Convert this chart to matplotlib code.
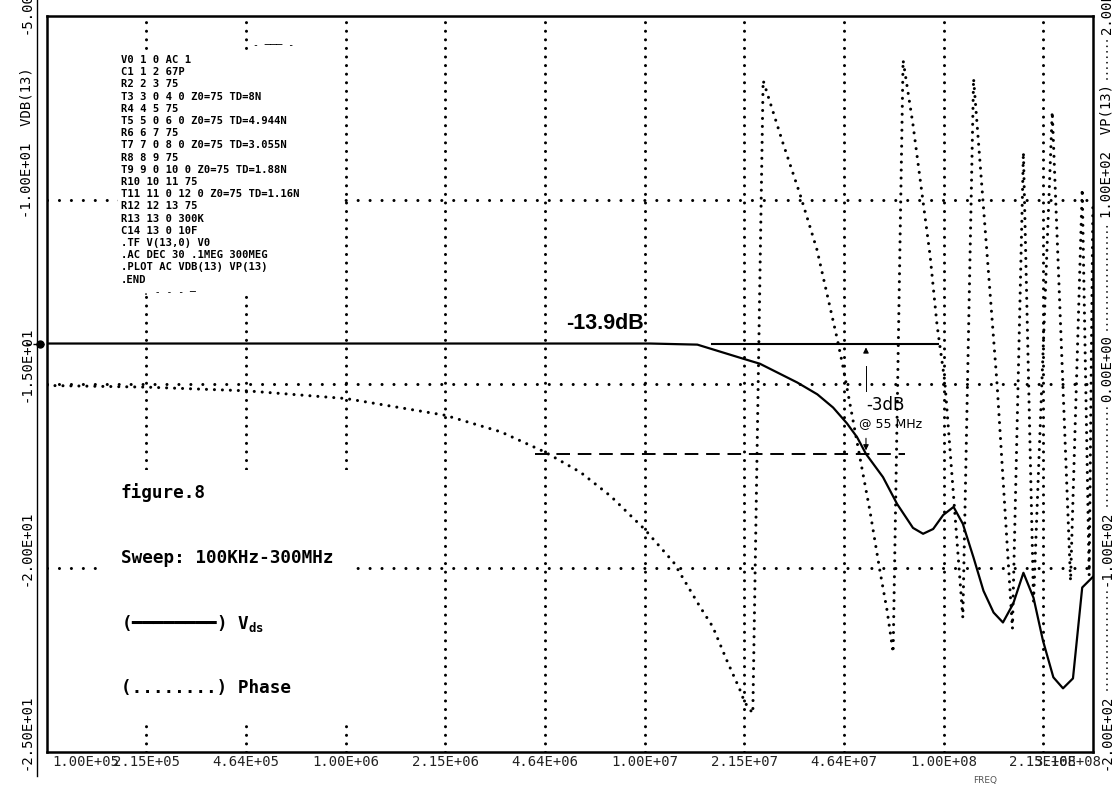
import matplotlib
matplotlib.use("Agg")
import matplotlib.pyplot as plt
from matplotlib.transforms import blended_transform_factory, offset_copy
from matplotlib.patches import Rectangle
from matplotlib.lines import Line2D

plt.rcParams['mathtext.fontset'] = 'custom'
plt.rcParams['mathtext.rm'] = 'DejaVu Sans Mono'
plt.rcParams['mathtext.bf'] = 'DejaVu Sans Mono:bold'

# ---- AC sweep results, node 13 ----
freq_mag = [1.0e5, 2.15e5, 4.64e5, 1.0e6, 2.15e6, 4.64e6, 7.08e6, 1.04e7, 1.50e7,
            2.13e7, 2.43e7, 3.24e7, 3.78e7, 4.27e7, 4.75e7, 5.14e7, 5.5e7, 6.27e7,
            6.99e7, 7.90e7, 8.54e7, 9.23e7, 9.97e7, 1.08e8, 1.16e8, 1.26e8, 1.36e8,
            1.47e8, 1.58e8, 1.71e8, 1.85e8, 2.00e8, 2.15e8, 2.33e8, 2.51e8, 2.71e8,
            2.91e8, 3.16e8]
vdb = [-13.9, -13.9, -13.9, -13.9, -13.9, -13.9, -13.9, -13.9, -13.93,
       -14.31, -14.45, -14.96, -15.28, -15.64, -16.07, -16.45, -16.9, -17.53,
       -18.26, -18.91, -19.07, -18.94, -18.56, -18.34, -18.80, -19.72, -20.62,
       -21.21, -21.48, -20.97, -20.13, -20.81, -21.97, -22.97, -23.27, -23.00,
       -20.53, -20.24]

freq_ph = [1e5, 2.15e5, 4.64e5, 1e6, 2.15e6, 3.3e6, 4.64e6, 6.1e6, 7.7e6, 1e7,
           1.25e7, 1.53e7, 1.69e7, 1.88e7, 2.08e7, 2.16e7, 2.30e7, 2.49e7, 2.90e7,
           3.31e7, 3.77e7, 4.40e7, 4.60e7, 4.75e7, 5.25e7, 5.67e7, 6.13e7, 6.47e7,
           6.78e7, 7.32e7, 7.90e7, 8.54e7, 9.01e7, 9.51e7, 1.01e8, 1.16e8, 1.26e8,
           1.51e8, 1.70e8, 1.85e8, 2.00e8, 2.31e8, 2.66e8, 2.91e8, 3.07e8, 3.16e8]
vp = [-0.8, -1.7, -3.7, -7.9, -17, -26, -37, -48, -61, -79,
      -97, -121, -132, -150, -166, -173, -179, 165, 131,
      103, 73, 25, 10, -2, -40, -69, -102, -123,
      -146, 176, 141, 99, 70, 32, 1, -127, 166,
      0, -133, 126, -118, 148, -107, 106, -104, 99]

xtick_vals = [1e5, 2.15e5, 4.64e5, 1e6, 2.15e6, 4.64e6, 1e7, 2.15e7, 4.64e7,
              1e8, 2.15e8, 3.16e8]
xtick_labels = ["1.00E+05", "2.15E+05", "4.64E+05", "1.00E+06", "2.15E+06",
                "4.64E+06", "1.00E+07", "2.15E+07", "4.64E+07", "1.00E+08",
                "2.15E+08", "3.16E+08"]
db_ticks = [-25, -20, -15, -10, -5]
db_labels = ["-2.50E+01", "-2.00E+01", "-1.50E+01", "-1.00E+01  VDB(13)", "-5.00E+00"]
ph_ticks = [-200, -100, 0, 100, 200]
ph_labels = ["-2.00E+02", "-1.00E+02", "0.00E+00", "1.00E+02  VP(13)", "2.00E+02"]

# hand annotations
ref_span = [1.68e7, 9.6e7]       # -13.9 dB reference line
half_span = [4.29e6, 7.43e7]     # -3 dB dashed line
f_3db = 5.5e7

netlist = ["V0 1 0 AC 1", "C1 1 2 67P", "R2 2 3 75", "T3 3 0 4 0 Z0=75 TD=8N",
           "R4 4 5 75", "T5 5 0 6 0 Z0=75 TD=4.944N", "R6 6 7 75",
           "T7 7 0 8 0 Z0=75 TD=3.055N", "R8 8 9 75", "T9 9 0 10 0 Z0=75 TD=1.88N",
           "R10 10 11 75", "T11 11 0 12 0 Z0=75 TD=1.16N", "R12 12 13 75",
           "R13 13 0 300K", "C14 13 0 10F", ".TF V(13,0) V0",
           ".AC DEC 30 .1MEG 300MEG", ".PLOT AC VDB(13) VP(13)", ".END"]

W, H = 1118, 786
def fx(x): return x / W
def fy(y): return 1 - y / H

fig = plt.figure(figsize=(W / 100, H / 100), dpi=100)
fig.patch.set_facecolor('white')
ax = fig.add_axes([fx(47), fy(752), (1093 - 47) / W, (752 - 16) / H])
ax2 = ax.twinx()

ax.set_xscale('log')
ax.set_xlim(1e5, 10 ** 8.5)
ax.set_ylim(-25, -5)
ax2.set_ylim(-200, 200)
for a in (ax, ax2):
    a.set_xticks([]); a.set_yticks([])
    a.minorticks_off()
    a.tick_params(which='both', length=0, labelleft=False, labelright=False, labelbottom=False)
for s in ax.spines.values():
    s.set_linewidth(1.8)
for s in ax2.spines.values():
    s.set_visible(False)

# dotted plotter grid
for f in xtick_vals[1:-1]:
    ax.axvline(f, color='k', lw=2.2, ls=(0, (0.01, 2.8)), dash_capstyle='round', zorder=1)
for v in db_ticks[1:-1]:
    ax.axhline(v, color='k', lw=2.2, ls=(0, (0.01, 3.9)), dash_capstyle='round', zorder=1)

# blank areas behind the text blocks
for x0, y0, x1, y1 in [(118, 50, 338, 295), (105, 470, 352, 724)]:
    ax.add_patch(Rectangle((fx(x0), fy(y1)), (x1 - x0) / W, (y1 - y0) / H,
                           transform=fig.transFigure, facecolor='white',
                           edgecolor='none', zorder=2, clip_on=False))

# curves
ax.plot(freq_mag, vdb, color='k', lw=1.6, zorder=3)
ax2.plot(freq_ph, vp, color='k', lw=2.2, ls=(0, (0.01, 2.6)), dash_capstyle='round')

# pen start mark on the left edge
lt = blended_transform_factory(fig.transFigure, ax.transData)
ax.plot([fx(26), fx(47)], [vdb[0], vdb[0]], color='k', lw=1.0, ls=(0, (3, 2)),
        transform=lt, clip_on=False)
ax.plot([fx(40)], [vdb[0]], 'ko', ms=5, transform=lt, clip_on=False)

# annotations
ax.plot(ref_span, [vdb[0]] * 2, color='k', lw=1.5, zorder=3)
ax.plot(half_span, [vdb[0] - 3] * 2, color='k', lw=1.4, ls=(0, (7, 4)), zorder=3)
ax.annotate('', xy=(f_3db, vdb[0] - 0.03), xytext=(f_3db, vdb[0] - 0.25),
            arrowprops=dict(arrowstyle='-|>', lw=0.8, color='k', mutation_scale=8))
ax.plot([f_3db, f_3db], [vdb[0] - 0.6, vdb[0] - 1.3], color='k', lw=0.7)
ax.annotate('', xy=(f_3db, vdb[0] - 2.98), xytext=(f_3db, vdb[0] - 2.5),
            arrowprops=dict(arrowstyle='-|>', lw=0.8, color='k', mutation_scale=8))
fig.text(fx(566), fy(329), "-13.9dB", fontsize=15.5, fontweight='bold',
         family='Liberation Sans', va='baseline', ha='left')
fig.text(fx(866), fy(405), "-3dB", fontsize=12, va='center', ha='left')
fig.text(fx(859), fy(424), "@ 55 MHz", fontsize=9, va='center', ha='left')

# x tick labels
bt = blended_transform_factory(ax.transData, fig.transFigure)
for i, (v, lab) in enumerate(zip(xtick_vals, xtick_labels)):
    if i == 0:
        fig.text(fx(52), fy(762), lab, ha='left', va='center',
                 family='DejaVu Sans Mono', fontsize=10, color='#222')
    elif i == len(xtick_vals) - 1:
        fig.text(fx(1101), fy(762), lab, ha='right', va='center',
                 family='DejaVu Sans Mono', fontsize=10, color='#222')
    else:
        ax.text(v, fy(762), lab, transform=bt, ha='center', va='center',
                family='DejaVu Sans Mono', fontsize=10, color='#222')
fig.text(fx(985), fy(781), "FREQ", fontsize=6.5, color='#555', ha='center', va='center')

# rotated y labels, each starting a little below its grid level
char_px = 0.602 * 10 * 100 / 72
def ypx(v, lo, hi):
    return 16 + (hi - v) / (hi - lo) * 736

tl = offset_copy(blended_transform_factory(fig.transFigure, ax.transData), fig=fig, y=-18, units='dots')
for v, lab in zip(db_ticks, db_labels):
    ax.text(fx(27), v, lab, transform=tl, rotation=90, rotation_mode='anchor',
            ha='left', va='center', family='DejaVu Sans Mono', fontsize=10, clip_on=False)
fig.add_artist(Line2D([fx(37)] * 2, [fy(0), fy(776)], transform=fig.transFigure,
                      color='k', lw=1.0))

tr = offset_copy(blended_transform_factory(fig.transFigure, ax2.transData), fig=fig, y=-18, units='dots')
for v, lab in zip(ph_ticks, ph_labels):
    ax2.text(fx(1107), v, lab, transform=tr, rotation=90, rotation_mode='anchor',
             ha='left', va='center', family='DejaVu Sans Mono', fontsize=10, clip_on=False)
# dotted leaders between the right-hand labels
for i in range(len(ph_ticks) - 1):
    top_of_label = ypx(ph_ticks[i], -200, 200) + 18 - len(ph_labels[i]) * char_px - 5
    next_start = ypx(ph_ticks[i + 1], -200, 200) + 18 + 5
    if top_of_label > next_start:
        fig.add_artist(Line2D([fx(1107)] * 2, [fy(top_of_label), fy(next_start)],
                              transform=fig.transFigure, color='k', lw=1.3,
                              ls=(0, (0.01, 3.0)), dash_capstyle='round'))

# netlist block
for i, line in enumerate(netlist):
    fig.text(fx(121), fy(60 + i * 12.2), line, family='DejaVu Sans Mono',
             fontweight='bold', fontsize=7.6, va='center', ha='left')
fig.text(fx(253), fy(45), "- \u2500\u2500\u2500 -", family='DejaVu Sans Mono', fontsize=7, va='center')
fig.text(fx(143), fy(292), ". - - - \u2500", family='DejaVu Sans Mono', fontsize=7, va='center')

# legend block
legend_lines = [(493, "figure.8"), (558, "Sweep: 100KHz-300MHz"),
                (623, "(\u2501\u2501\u2501\u2501\u2501\u2501\u2501\u2501) $\\mathbf{V_{ds}}$"),
                (688, "(........) Phase")]
for y, txt in legend_lines:
    fig.text(fx(121), fy(y), txt, family='DejaVu Sans Mono', fontweight='bold',
             fontsize=12.7, va='center', ha='left')

fig.savefig("out.png", dpi=100, facecolor='white')
